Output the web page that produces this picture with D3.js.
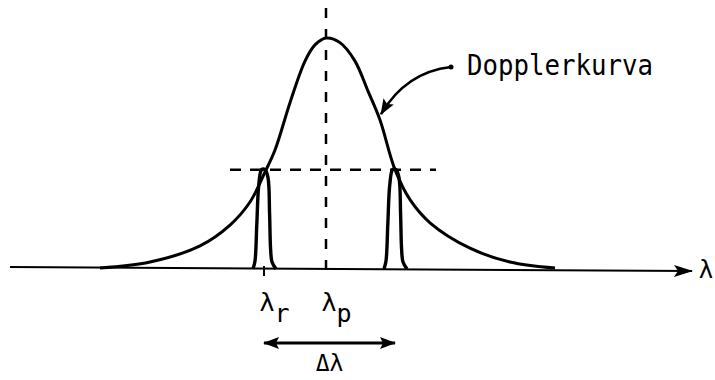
<!DOCTYPE html>
<html><head><meta charset="utf-8">
<script src="https://cdn.jsdelivr.net/npm/d3@7"></script>
<style>body{margin:0;background:#fff}svg{display:block}</style>
</head><body><svg id="c" width="715" height="380"></svg>
<script>
// Doppler-broadened profile: wavelength offset from line centre (arb. units) and relative intensity
const dopplerOffset    = [-11.3, -8.8, -6.3, -4.8, -3.8, -3.05, -2.55, -1.8, -1.05, -0.55, 0, 0.7, 1.45, 2.1, 2.7, 3.45, 4.2, 5.2, 7.2, 9.2, 11.45];
const dopplerIntensity = [0.004, 0.03, 0.10, 0.19, 0.29, 0.42, 0.515, 0.72, 0.90, 0.97, 1.0, 0.98, 0.90, 0.77, 0.645, 0.43, 0.30, 0.20, 0.09, 0.03, 0.004];

// Narrow lines sitting on the half-intensity level
const lineCentres = [-3.1, 3.45];
const lineHeights = [0.43, 0.43];
// Shape of one narrow line: offset from its centre and fraction of its height
const profileOffset = [-0.55, -0.45, -0.36, -0.26, -0.12, 0.05, 0.2, 0.28, 0.33, 0.4, 0.6];
const profileLevel  = [0, 0.08, 0.45, 0.85, 1, 1, 0.92, 0.55, 0.2, 0.07, 0];

const halfLevel = 0.43;
const peakCentre = 0;
const axisRange = [-15.8, 18.3];
const halfLineSpan = [-4.8, 5.5];
const peakLineSpan = [-0.03, 1.13];

const labelLambda = "λ";
const subscripts = ["r", "p"];
const labelCurve = "Dopplerkurva";
const labelDelta = "Δλ";

const svg = d3.select("#c");
const x = d3.scaleLinear().domain([-16, 18]).range([6, 686]);
const y = d3.scaleLinear().domain([0, 1]).range([269, 38]);

const ink = "#000";
const mono = "'DejaVu Sans Mono', 'Liberation Mono', monospace";

const defs = svg.append("defs");
defs.append("marker").attr("id", "axisHead").attr("viewBox", "0 0 20 14")
  .attr("refX", 18).attr("refY", 7).attr("markerWidth", 20).attr("markerHeight", 14)
  .attr("markerUnits", "userSpaceOnUse").attr("orient", "auto")
  .append("path").attr("d", "M0,1 L19,7 L0,13 L4,7 Z").attr("fill", ink);
defs.append("marker").attr("id", "head").attr("viewBox", "0 0 16 12")
  .attr("refX", 15).attr("refY", 6).attr("markerWidth", 16).attr("markerHeight", 12)
  .attr("markerUnits", "userSpaceOnUse").attr("orient", "auto-start-reverse")
  .append("path").attr("d", "M0,0 L16,6 L0,12 L3,6 Z").attr("fill", ink);

// wavelength axis
svg.append("line")
  .attr("x1", x(axisRange[0])).attr("y1", y(0) - 2)
  .attr("x2", x(axisRange[1])).attr("y2", y(0) + 2)
  .attr("stroke", ink).attr("stroke-width", 2)
  .attr("marker-end", "url(#axisHead)");
svg.append("text").attr("x", x(axisRange[1]) + 14).attr("y", y(0) + 9)
  .attr("text-anchor", "middle").attr("font-family", mono).attr("font-size", 24)
  .text(labelLambda);

// dashed guides
svg.append("line")
  .attr("x1", x(peakCentre)).attr("x2", x(peakCentre))
  .attr("y1", y(peakLineSpan[1])).attr("y2", y(peakLineSpan[0]))
  .attr("stroke", ink).attr("stroke-width", 2.5).attr("stroke-dasharray", "10 11");
svg.append("line")
  .attr("x1", x(halfLineSpan[0])).attr("x2", x(halfLineSpan[1]))
  .attr("y1", y(halfLevel)).attr("y2", y(halfLevel))
  .attr("stroke", ink).attr("stroke-width", 2.5).attr("stroke-dasharray", "11 9");

// small tick under the red-shifted line
svg.append("line")
  .attr("x1", x(lineCentres[0])).attr("x2", x(lineCentres[0]))
  .attr("y1", y(0) - 3).attr("y2", y(0) + 7)
  .attr("stroke", ink).attr("stroke-width", 2);

// Doppler curve
const curve = d3.line().x(d => x(d[0])).y(d => y(d[1])).curve(d3.curveCatmullRom.alpha(0.5));
svg.append("path")
  .datum(d3.zip(dopplerOffset, dopplerIntensity))
  .attr("d", curve).attr("fill", "none").attr("stroke", ink).attr("stroke-width", 3);

// narrow lines
lineCentres.forEach((c, i) => {
  const pts = profileOffset.map((o, k) => [c + o, profileLevel[k] * lineHeights[i]]);
  svg.append("path").datum(pts).attr("d", curve)
    .attr("fill", "none").attr("stroke", ink).attr("stroke-width", 3.4);
});

// labels under the axis
[lineCentres[0], peakCentre].forEach((c, i) => {
  const g = svg.append("g").attr("font-family", mono).attr("fill", ink);
  g.append("text").attr("x", x(c) + 3).attr("y", y(0) + 42)
    .attr("text-anchor", "middle").attr("font-size", 25).text(labelLambda);
  g.append("text").attr("x", x(c) + 18).attr("y", y(0) + 53)
    .attr("text-anchor", "middle").attr("font-size", 25).text(subscripts[i]);
});

// Δλ double arrow
svg.append("line")
  .attr("x1", x(lineCentres[0])).attr("x2", x(lineCentres[1]))
  .attr("y1", y(0) + 74).attr("y2", y(0) + 74)
  .attr("stroke", ink).attr("stroke-width", 3)
  .attr("marker-start", "url(#head)").attr("marker-end", "url(#head)");
svg.append("text").attr("x", x((lineCentres[0] + lineCentres[1]) / 2)).attr("y", y(0) + 102)
  .attr("text-anchor", "middle").attr("font-family", mono).attr("font-size", 23)
  .text(labelDelta);

// curve label with pointer
const labelAt = [6.25, 0.874];
const pointerTip = [2.75, 0.67];
svg.append("circle").attr("cx", x(labelAt[0])).attr("cy", y(labelAt[1])).attr("r", 2.5).attr("fill", ink);
const p = d3.path();
p.moveTo(x(labelAt[0]), y(labelAt[1]));
p.quadraticCurveTo(x(labelAt[0]) - 45, y(labelAt[1]) + 5, x(pointerTip[0]), y(pointerTip[1]));
svg.append("path").attr("d", p.toString()).attr("fill", "none")
  .attr("stroke", ink).attr("stroke-width", 2.5).attr("marker-end", "url(#head)");
svg.append("text").attr("x", x(labelAt[0]) + 16).attr("y", y(labelAt[1]) + 8)
  .attr("font-family", mono).attr("font-size", 29).attr("textLength", 186)
  .attr("lengthAdjust", "spacingAndGlyphs").text(labelCurve);
</script></body></html>
